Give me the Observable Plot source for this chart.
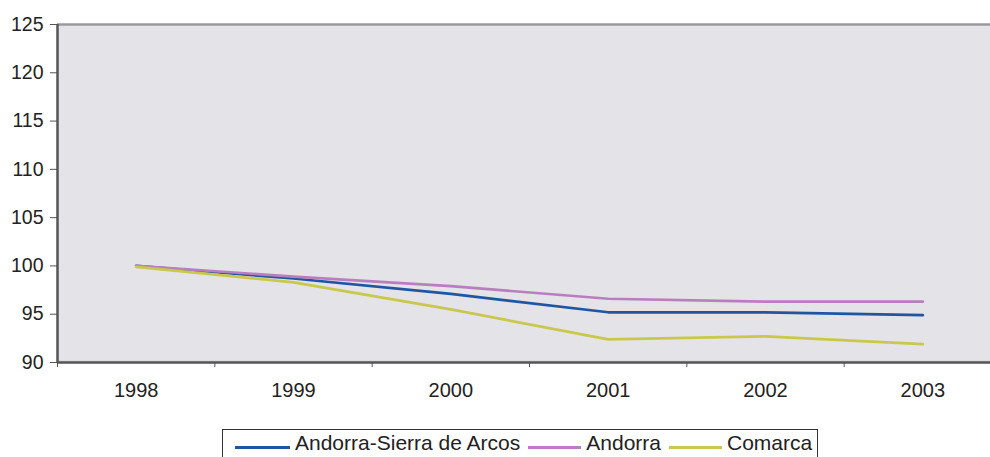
<!DOCTYPE html>
<html>
<head>
<meta charset="utf-8">
<script src="https://cdn.jsdelivr.net/npm/d3@7"></script>
<script src="https://cdn.jsdelivr.net/npm/@observablehq/plot@0.6"></script>
<style>
  html, body { margin: 0; padding: 0; background: #fff; overflow: hidden; }
  body { font-family: "Liberation Sans", Arial, sans-serif; }
  #legend {
    position: absolute; left: 222px; top: 429px; width: 596px; height: 40px;
    border: 1.5px solid #333; box-sizing: border-box; font-size: 21px; color: #222;
    font-family: "Liberation Sans", Arial, sans-serif;
    display: flex; align-items: flex-start; padding-top: 1px; padding-left: 12px;
    line-height: 24px; white-space: nowrap;
  }
  .item { display: flex; align-items: center; margin-right: 8px; }
  .sw { display: inline-block; height: 2.5px; margin-right: 5px; margin-top: 9px; }
</style>
</head>
<body>
<div id="chart"></div>
<div id="legend"></div>
<script>
const years = [1998, 1999, 2000, 2001, 2002, 2003];
const seriesNames = ["Andorra-Sierra de Arcos", "Andorra", "Comarca"];
const seriesColors = ["#1f56a3", "#b87fbe", "#c9c84b"];
const valsASA = [100, 98.7, 97.1, 95.2, 95.2, 94.9];
const valsAndorra = [100, 98.9, 97.9, 96.6, 96.3, 96.3];
const valsComarca = [99.9, 98.3, 95.5, 92.4, 92.7, 91.9];
const yTicks = [90, 95, 100, 105, 110, 115, 120, 125];
const xBounds = [1997.5, 1998.5, 1999.5, 2000.5, 2001.5, 2002.5];

const allVals = [valsASA, valsAndorra, valsComarca];
const data = [];
seriesNames.forEach((s, i) => years.forEach((yr, j) => data.push({series: s, year: yr, value: allVals[i][j]})));

const font = "'Liberation Sans', Arial, sans-serif";
const chart = Plot.plot({
  width: 990,
  height: 418,
  marginLeft: 57,
  marginTop: 24,
  marginBottom: 56,
  marginRight: -11,
  style: {fontFamily: font, fontSize: "20px", color: "#222", background: "#fff"},
  x: {type: "linear", domain: [1997.5, 2003.5]},
  y: {domain: [90, 125]},
  color: {domain: seriesNames, range: seriesColors},
  marks: [
    Plot.frame({fill: "#e4e3e8", stroke: "none"}),
    Plot.ruleY([125], {stroke: "#9a9a9e", strokeWidth: 2.5}),
    Plot.ruleY([90], {stroke: "#cfced4", strokeWidth: 1, dy: -1.5}),
    Plot.axisY({ticks: yTicks, tickSize: 7, tickPadding: 7, label: null, stroke: "#555", fill: "#222", fontSize: 19.5, fontFamily: font, tickFormat: d => String(d)}),
    Plot.axisX({ticks: xBounds, tickSize: 5, tickFormat: () => "", label: null, stroke: "#555"}),
    Plot.axisX({ticks: years, tickSize: 0, tickPadding: 20, tickFormat: d => String(d), label: null, fill: "#222", fontSize: 20, fontFamily: font}),
    Plot.ruleX([1997.5], {stroke: "#555", strokeWidth: 2.5}),
    Plot.ruleY([90], {stroke: "#555", strokeWidth: 2.5}),
    Plot.line(data, {x: "year", y: "value", z: "series", stroke: "series", strokeWidth: 2.7})
  ]
});
document.getElementById("chart").appendChild(chart);

const legend = document.getElementById("legend");
const swWidths = [55, 53, 53];
seriesNames.forEach((s, i) => {
  const it = document.createElement("span");
  it.className = "item";
  const sw = document.createElement("span");
  sw.className = "sw";
  sw.style.width = swWidths[i] + "px";
  sw.style.background = seriesColors[i];
  it.appendChild(sw);
  it.appendChild(document.createTextNode(s));
  legend.appendChild(it);
});
</script>
</body>
</html>
